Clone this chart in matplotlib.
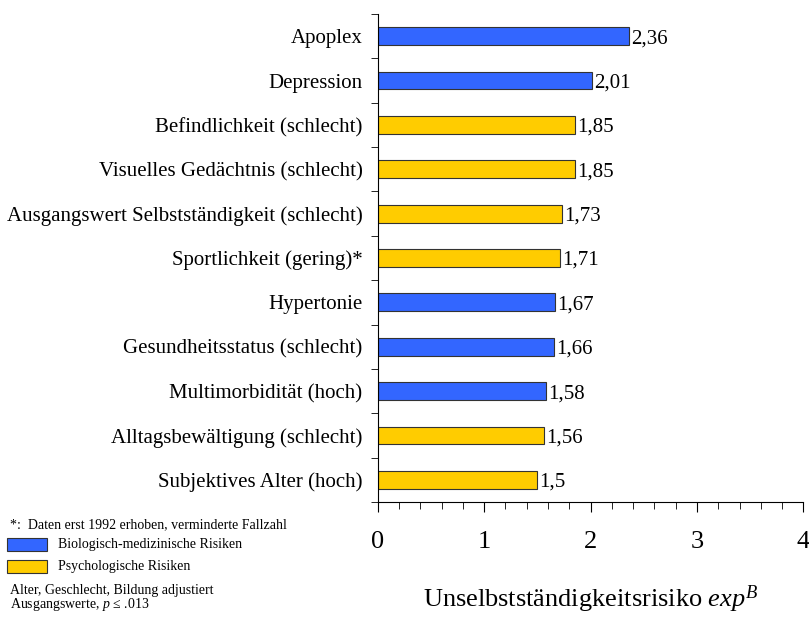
import numpy as np
import matplotlib.pyplot as plt
from matplotlib.patches import Rectangle
from matplotlib.ticker import MultipleLocator

# Daten (von oben nach unten)
labels = ['Apoplex', 'Depression', 'Befindlichkeit (schlecht)',
          'Visuelles Gedächtnis (schlecht)',
          'Ausgangswert Selbstständigkeit (schlecht)',
          'Sportlichkeit (gering)*', 'Hypertonie',
          'Gesundheitsstatus (schlecht)', 'Multimorbidität (hoch)',
          'Alltagsbewältigung (schlecht)', 'Subjektives Alter (hoch)']
werte = [2.36, 2.01, 1.85, 1.85, 1.73, 1.71, 1.67, 1.66, 1.58, 1.56, 1.5]
wert_text = ['2,36', '2,01', '1,85', '1,85', '1,73', '1,71', '1,67',
             '1,66', '1,58', '1,56', '1,5']
gruppe = ['bio', 'bio', 'psy', 'psy', 'psy', 'psy', 'bio', 'bio', 'bio',
          'psy', 'psy']

blau = '#3366FF'
gelb = '#FFCC00'
farben = [blau if g == 'bio' else gelb for g in gruppe]

plt.rcParams['font.family'] = ['Liberation Serif', 'DejaVu Serif']
plt.rcParams['mathtext.fontset'] = 'custom'
plt.rcParams['mathtext.rm'] = 'Liberation Serif'
plt.rcParams['mathtext.it'] = 'Liberation Serif:italic'

fig = plt.figure(figsize=(8.09, 6.17), dpi=100)
ax = fig.add_axes([0.467, 0.1864, 0.526, 0.7909])

y = np.arange(len(labels))
ax.barh(y, werte, height=0.4, color=farben, edgecolor='#333333', linewidth=0.8)
for yi, w, t in zip(y, werte, wert_text):
    ax.text(w + 0.02, yi, t, va='center_baseline', ha='left', fontsize=15)

ax.set_ylim(len(labels) - 0.5, -0.5)
ax.set_xlim(0, 4)

# Kategorien-Beschriftungen ohne Ticks, Ticks an den Grenzen
ax.set_yticks(y)
ax.set_yticklabels(labels, fontsize=15)
ax.tick_params(axis='y', which='major', length=0, pad=11)
ax.set_yticks(np.arange(-0.5, len(labels), 1), minor=True)
ax.tick_params(axis='y', which='minor', length=5, direction='out', color='black')

ax.xaxis.set_major_locator(MultipleLocator(1))
ax.xaxis.set_minor_locator(MultipleLocator(0.2))
ax.tick_params(axis='x', which='major', length=7, labelsize=19, pad=14)
ax.tick_params(axis='x', which='minor', length=5)
ax.set_xlabel('Unselbstständigkeitsrisiko $\\mathit{exp}^{B}$', fontsize=19,
              labelpad=22)

ax.spines['top'].set_visible(False)
ax.spines['right'].set_visible(False)

# Fußnoten und Legende
fig.text(0.012, 0.149, '*:  Daten erst 1992 erhoben, verminderte Fallzahl',
         fontsize=10, va='center')
for yy, c, t in [(0.117, blau, 'Biologisch-medizinische Risiken'),
                 (0.0813, gelb, 'Psychologische Risiken')]:
    fig.patches.append(Rectangle((0.0087, yy - 0.0105), 0.0494, 0.021,
                                 transform=fig.transFigure,
                                 facecolor=c, edgecolor='#333333', linewidth=0.8))
    fig.text(0.0717, yy, t, fontsize=10, va='center')
fig.text(0.012, 0.0535,
         'Alter, Geschlecht, Bildung adjustiert\nAusgangswerte, $\\mathit{p}$ ≤ .013',
         fontsize=10, va='top', linespacing=0.95)

plt.savefig('out.png', dpi=100)
